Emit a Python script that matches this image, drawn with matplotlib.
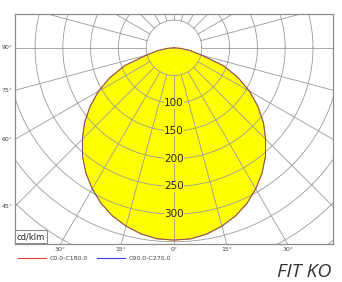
import numpy as np
import matplotlib.pyplot as plt

# luminous intensity (cd/klm) vs gamma angle
gamma = [0, 5, 10, 15, 20, 25, 30, 35, 40, 45, 50, 55, 60, 65, 70, 75, 80, 85, 90]
c0_c180 = [347, 346, 341, 333, 323, 310, 294, 276, 256, 233, 210, 184, 157, 127, 95, 52, 30, 12, 0]
c90_c270 = [347, 346, 341, 333, 323, 310, 294, 276, 256, 233, 210, 184, 157, 127, 95, 52, 30, 12, 0]

rings = [50, 100, 150, 200, 250, 300, 350, 400, 450, 500]
ring_labels = [100, 150, 200, 250, 300]
spokes = np.arange(0, 360, 15)
side_labels = [90, 75, 60, 45]
bottom_labels = [-30, -15, 0, 15, 30]

xlim = (-286, 286)
ylim = (-354, 61)


def curve(vals):
    g = np.radians(np.array(gamma))
    v = np.array(vals)
    gg = np.concatenate([-g[::-1], g[1:]])
    vv = np.concatenate([v[::-1], v[1:]])
    return vv * np.sin(gg), -vv * np.cos(gg)


fig = plt.figure(figsize=(3.42, 2.82), dpi=100)
ax = fig.add_axes([15 / 342, 38 / 282, 318 / 342, 230 / 282])
ax.set_xlim(*xlim)
ax.set_ylim(*ylim)
ax.set_xticks([])
ax.set_yticks([])
for s in ax.spines.values():
    s.set_color("#8c8c8c")
    s.set_linewidth(0.9)

x1, y1 = curve(c0_c180)
x2, y2 = curve(c90_c270)
ax.fill(x1, y1, color="#ffff00", zorder=1)

# grid
t = np.linspace(0, 2 * np.pi, 400)
for r in rings:
    ax.plot(r * np.cos(t), r * np.sin(t), color="#9a9a9a", lw=0.6, zorder=2)
for a in spokes:
    ar = np.radians(a)
    ax.plot([50 * np.sin(ar), 700 * np.sin(ar)], [-50 * np.cos(ar), -700 * np.cos(ar)],
            color="#9a9a9a", lw=0.6, zorder=2)

ax.plot(x1, y1, color="#c04040", lw=0.7, zorder=3)
ax.plot(x2, y2, color="#5050c0", lw=0.7, alpha=0.5, zorder=3)

for v in ring_labels:
    ax.text(0, -v, str(v), ha="center", va="center", fontsize=7.5, color="#222222",
            bbox=dict(facecolor="#ffff00", edgecolor="none", pad=0.3), zorder=4)

for a in side_labels:
    y = -abs(xlim[0]) / np.tan(np.radians(a)) if a != 90 else 0
    ax.text(xlim[0] - 4, y, f"{a}°", ha="right", va="center", fontsize=4.5,
            color="#444444", clip_on=False)

for a in bottom_labels:
    x = abs(ylim[0]) * np.tan(np.radians(a))
    ax.text(x, ylim[0] - 6, f"{abs(a)}°", ha="center", va="top", fontsize=4.5,
            color="#444444", clip_on=False)

ax.text(0.006, 0.012, "cd/klm", transform=ax.transAxes, ha="left", va="bottom",
        fontsize=6, color="#222222", zorder=5,
        bbox=dict(facecolor="white", edgecolor="#8c8c8c", linewidth=0.8, pad=1.5))

# legend under the chart
fig.add_artist(plt.Line2D([18 / 342, 46 / 342], [1 - 258 / 282] * 2, color="#e04040", lw=0.8))
fig.text(50 / 342, 1 - 258 / 282, "C0.0-C180.0", fontsize=4.5, color="#444444", va="center")
fig.add_artist(plt.Line2D([97 / 342, 125 / 342], [1 - 258 / 282] * 2, color="#4040e0", lw=0.8))
fig.text(129 / 342, 1 - 258 / 282, "C90.0-C270.0", fontsize=4.5, color="#444444", va="center")

fig.text(331 / 342, 1 - 277 / 282, "FIT KO", fontsize=14, family="Open Sans",
         style="italic", color="#333333", ha="right", va="baseline")

fig.savefig("out.png", dpi=100)
